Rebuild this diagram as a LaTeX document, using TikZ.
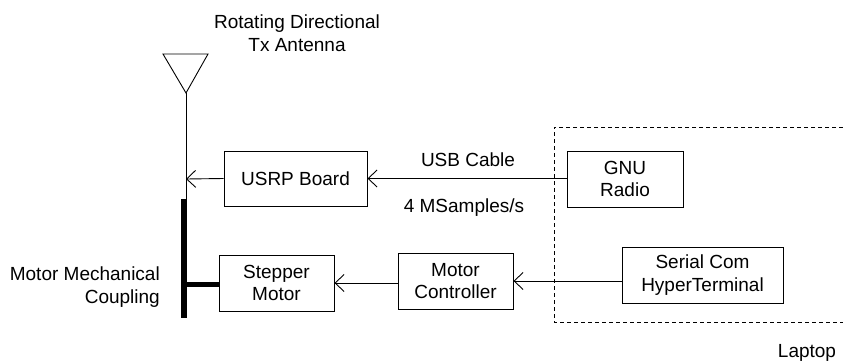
\documentclass[tikz,border=0pt]{standalone}
\usepackage{fontspec}
\setmainfont{Liberation Sans}
\usetikzlibrary{arrows.meta}
\begin{document}
\begin{tikzpicture}[x=1pt,y=-1pt,
  box/.style={draw,line width=0.9pt,inner sep=0pt,align=center,
    font=\fontsize{19}{22.5}\selectfont},
  lbl/.style={inner sep=0pt,align=center,font=\fontsize{19}{22.5}\selectfont},
  conn/.style={line width=0.9pt,-{Straight Barb[length=9pt,width=17pt,line width=0.9pt]}},
  thick bar/.style={line width=6pt},
  laptopframe/.style={line width=0.9pt,dash pattern=on 4pt off 3pt}]
\useasboundingbox (0,0) rectangle (843,362);

% boxes
\node[box,minimum width=143pt,minimum height=55pt] (usrp) at (295.5,178.5) {USRP Board};
\node[box,minimum width=116pt,minimum height=56pt] (gnu) at (625,179) {GNU\\Radio};
\node[box,minimum width=115pt,minimum height=56pt] (stepper) at (276.5,283) {Stepper\\Motor};
\node[box,minimum width=115pt,minimum height=56pt] (ctrl) at (455.5,281) {Motor\\Controller};
\node[box,minimum width=161pt,minimum height=56pt] (serial) at (702.5,275) {Serial Com\\HyperTerminal};

% labels (multi-line labels: anchor base = last line)
\node[lbl,anchor=base] (antlbl) at (297,51) {Rotating Directional\\Tx Antenna};
\node[lbl,anchor=base] (usb) at (468,166) {USB Cable};
\node[lbl,anchor=base] (rate) at (464,212) {4 MSamples/s};
\node[lbl,anchor=base east,align=right] (coupling) at (160,303) {Motor Mechanical\\Coupling};
\node[lbl,anchor=base] (laptop) at (807,357) {Laptop};

% antenna
\coordinate (apex) at (186,93);
\coordinate (tl) at (163,54);
\coordinate (tr) at (208,54);
\coordinate (mastbot) at (186,199);
\coordinate (usrpin) at (186,179);
\draw[line width=0.9pt,line join=miter] (tl) -- (tr) -- (apex) -- cycle;
\draw[line width=0.9pt] (apex) -- (mastbot);

% mechanical coupling
\coordinate (bartop) at (183.7,199);
\coordinate (barbot) at (183.7,318);
\coordinate (barmid) at (183.7,284);
\draw[thick bar] (bartop) -- (barbot);
\draw[line width=5pt] (barmid) -- (barmid -| stepper.west);

% connectors
\draw[conn] (gnu.west |- usrp.east) -- (usrp.east);
\draw[conn] (usrp.west) -- (usrpin);
\draw[conn] (ctrl.west |- stepper.east) -- (stepper.east);
\draw[conn] (serial.west |- ctrl.east) -- (ctrl.east);

% laptop frame
\coordinate (ftr) at (843,127);
\coordinate (ftl) at (554,127);
\coordinate (fbl) at (554,322);
\coordinate (fbr) at (843,322);
\draw[laptopframe] (ftr) -- (ftl) -- (fbl) -- (fbr);
\end{tikzpicture}
\end{document}
